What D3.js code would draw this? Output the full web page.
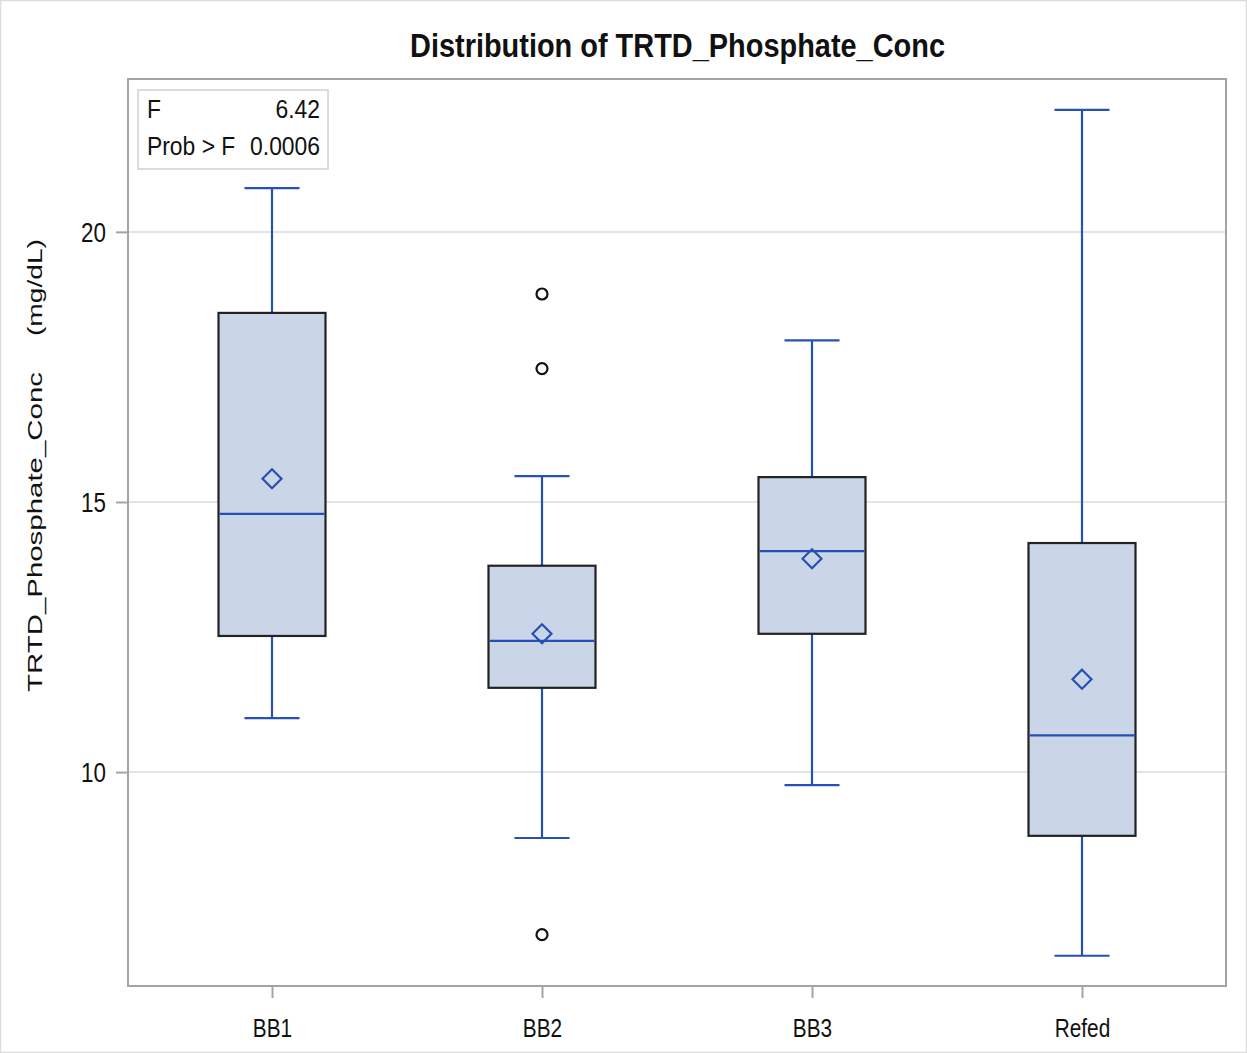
<!DOCTYPE html>
<html>
<head>
<meta charset="utf-8">
<script src="https://cdn.jsdelivr.net/npm/d3@7"></script>
<style>
  html, body { margin: 0; padding: 0; background: #fff; }
  svg { display: block; }
  text { font-family: "Liberation Sans", Arial, sans-serif; }
</style>
</head>
<body>
<svg id="chart" width="1247" height="1053"></svg>
<script>
// Groups and five-number summaries (mg/dL)
const groups   = ["BB1", "BB2", "BB3", "Refed"];
const whiskLo  = [11.0, 8.78, 9.76, 6.60];
const q1       = [12.52, 11.56, 12.56, 8.82];
const median   = [14.78, 12.43, 14.09, 10.68];
const q3       = [18.50, 13.82, 15.46, 14.24];
const whiskHi  = [20.81, 15.48, 17.99, 22.26];
const means    = [15.43, 12.56, 13.95, 11.72];
const outliers = [[], [18.85, 17.47, 6.99], [], []];
const yTicks   = [10, 15, 20];
const statLabels = ["F", "Prob > F"];
const statValues = ["6.42", "0.0006"];

const svg = d3.select("#chart");
const W = 1247, H = 1053;
const plot = { left: 128, right: 1226, top: 79, bottom: 986 };
const condensed = 0.8;   // horizontal squeeze for the narrow label face
const insetSqueeze = 0.88;

// Light outer border of the graphic
svg.append("rect").attr("x", 0.5).attr("y", 0.5).attr("width", W - 1).attr("height", H - 1)
  .attr("fill", "none").attr("stroke", "#dcdcdc").attr("stroke-width", 1.5);

const x = d3.scalePoint().domain(groups).range([272, 1082]);
const y = d3.scaleLinear().domain([6.04, 22.83]).range([plot.bottom, plot.top]);

// Grid lines
svg.append("g").selectAll("line").data(yTicks).join("line")
  .attr("x1", plot.left).attr("x2", plot.right)
  .attr("y1", d => y(d)).attr("y2", d => y(d))
  .attr("stroke", "#e4e4e4").attr("stroke-width", 2);

// Axes
const yAxis = svg.append("g")
  .attr("transform", `translate(${plot.left},0)`)
  .call(d3.axisLeft(y).tickValues(yTicks).tickSize(12).tickFormat(d3.format("d")));
yAxis.select(".domain").remove();
yAxis.selectAll(".tick line").attr("stroke", "#a0a4a8").attr("stroke-width", 2);
yAxis.selectAll(".tick text")
  .attr("font-size", 27).attr("fill", "#111")
  .attr("font-family", "'Liberation Sans', Arial, sans-serif")
  .attr("x", -22 / 0.83).attr("dy", "0.36em")
  .attr("transform", "scale(0.83,1)");

const xAxis = svg.append("g")
  .attr("transform", `translate(0,${plot.bottom})`)
  .call(d3.axisBottom(x).tickSize(12));
xAxis.select(".domain").remove();
xAxis.selectAll(".tick line").attr("stroke", "#a0a4a8").attr("stroke-width", 2);
xAxis.selectAll(".tick text")
  .attr("font-size", 26).attr("fill", "#111")
  .attr("font-family", "'Liberation Sans', Arial, sans-serif")
  .attr("y", 51).attr("dy", 0)
  .attr("transform", `scale(${condensed},1)`);

// Plot frame
svg.append("rect").attr("x", plot.left).attr("y", plot.top)
  .attr("width", plot.right - plot.left).attr("height", plot.bottom - plot.top)
  .attr("fill", "none").attr("stroke", "#a0a4a8").attr("stroke-width", 2);

// Box plots
const blue = "#2550b4";
const boxW = 107, capW = 55;
const data = groups.map((g, i) => ({
  g, lo: whiskLo[i], q1: q1[i], med: median[i], q3: q3[i], hi: whiskHi[i], mean: means[i], out: outliers[i]
}));

const boxes = svg.append("g").selectAll("g").data(data).join("g")
  .attr("transform", d => `translate(${x(d.g)},0)`);

// whiskers
boxes.append("line").attr("x1", 0).attr("x2", 0)
  .attr("y1", d => y(d.q3)).attr("y2", d => y(d.hi)).attr("stroke", blue).attr("stroke-width", 2.2);
boxes.append("line").attr("x1", 0).attr("x2", 0)
  .attr("y1", d => y(d.q1)).attr("y2", d => y(d.lo)).attr("stroke", blue).attr("stroke-width", 2.2);
boxes.append("line").attr("x1", -capW / 2).attr("x2", capW / 2)
  .attr("y1", d => y(d.hi)).attr("y2", d => y(d.hi)).attr("stroke", blue).attr("stroke-width", 2.2);
boxes.append("line").attr("x1", -capW / 2).attr("x2", capW / 2)
  .attr("y1", d => y(d.lo)).attr("y2", d => y(d.lo)).attr("stroke", blue).attr("stroke-width", 2.2);

// box
boxes.append("rect").attr("x", -boxW / 2).attr("width", boxW)
  .attr("y", d => y(d.q3)).attr("height", d => y(d.q1) - y(d.q3))
  .attr("fill", "#cad6e7").attr("stroke", "#222").attr("stroke-width", 2.2);

// median
boxes.append("line").attr("x1", -boxW / 2 + 1).attr("x2", boxW / 2 - 1)
  .attr("y1", d => y(d.med)).attr("y2", d => y(d.med)).attr("stroke", blue).attr("stroke-width", 2.2);

// mean diamond
boxes.append("path")
  .attr("d", d => { const cy = y(d.mean), r = 9.5; return `M0,${cy - r}L${r},${cy}L0,${cy + r}L${-r},${cy}Z`; })
  .attr("fill", "none").attr("stroke", blue).attr("stroke-width", 2.2);

// outliers
boxes.selectAll("circle").data(d => d.out).join("circle")
  .attr("cx", 0).attr("cy", d => y(d)).attr("r", 5.5)
  .attr("fill", "none").attr("stroke", "#111").attr("stroke-width", 2.2);

// Inset statistics table
const inset = svg.append("g");
inset.append("rect").attr("x", 138).attr("y", 90).attr("width", 190).attr("height", 79)
  .attr("fill", "#fff").attr("stroke", "#d0d0d0").attr("stroke-width", 1.5);
statLabels.forEach((t, i) => {
  inset.append("text").attr("x", 147 / insetSqueeze).attr("y", 118 + i * 37).attr("font-size", 26)
    .attr("transform", `scale(${insetSqueeze},1)`).attr("fill", "#111").text(t);
  inset.append("text").attr("x", 320 / insetSqueeze).attr("y", 118 + i * 37).attr("font-size", 26)
    .attr("transform", `scale(${insetSqueeze},1)`)
    .attr("text-anchor", "end").attr("fill", "#111").text(statValues[i]);
});

// Title
svg.append("text")
  .attr("x", 410).attr("y", 57)
  .attr("font-size", 33).attr("font-weight", "bold").attr("fill", "#111")
  .attr("textLength", 535).attr("lengthAdjust", "spacingAndGlyphs")
  .text("Distribution of TRTD_Phosphate_Conc");

// Y axis title: variable name and unit
const yTitle = svg.append("g").attr("transform", "translate(42,0) rotate(-90)");
yTitle.append("text")
  .attr("x", -692).attr("y", 0)
  .attr("font-size", 21).attr("fill", "#111")
  .attr("textLength", 320).attr("lengthAdjust", "spacingAndGlyphs")
  .text("TRTD_Phosphate_Conc");
yTitle.append("text")
  .attr("x", -336).attr("y", 0)
  .attr("font-size", 21).attr("fill", "#111")
  .attr("textLength", 97).attr("lengthAdjust", "spacingAndGlyphs")
  .text("(mg/dL)");
</script>
</body>
</html>
